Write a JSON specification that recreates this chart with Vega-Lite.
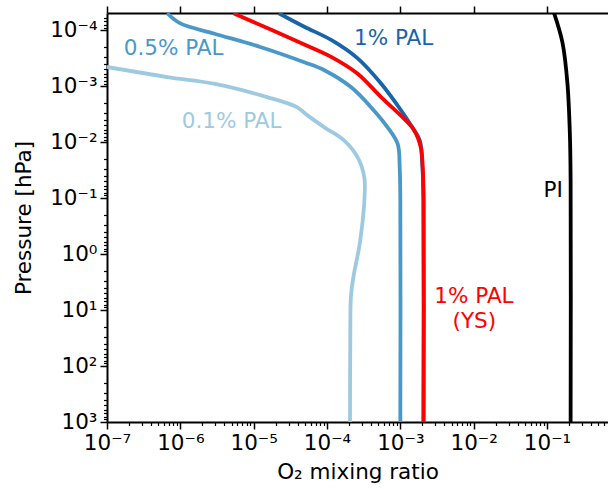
{
 "$schema": "https://vega.github.io/schema/vega-lite/v6.json",
 "width": 501,
 "height": 409,
 "autosize": {"type": "none"},
 "padding": {"left": 107, "top": 13, "right": 0, "bottom": 67},
 "background": "white",
 "config": {
  "view": {"stroke": null},
  "font": "DejaVu Sans",
  "axis": {
   "grid": false,
   "domainColor": "black",
   "domainWidth": 2,
   "tickColor": "black",
   "tickWidth": 1.5,
   "labelColor": "black",
   "labelFont": "DejaVu Sans",
   "labelFontSize": 21.5,
   "titleFont": "DejaVu Sans",
   "titleFontSize": 21.5,
   "titleFontWeight": "normal",
   "titleColor": "black"
  }
 },
 "datasets": {
  "lines": [
   {"series": "1 PI", "i": 0, "x": 0.125, "p": 5e-5},
   {"series": "1 PI", "i": 1, "x": 0.163, "p": 1.7e-4},
   {"series": "1 PI", "i": 2, "x": 0.19, "p": 9e-4},
   {"series": "1 PI", "i": 3, "x": 0.205, "p": 7e-3},
   {"series": "1 PI", "i": 4, "x": 0.21, "p": 0.05},
   {"series": "1 PI", "i": 5, "x": 0.21, "p": 1000},

   {"series": "2 0.1% PAL", "i": 0, "x": 1e-7, "p": 4.56e-4},
   {"series": "2 0.1% PAL", "i": 1, "x": 6.6e-7, "p": 6.9e-4},
   {"series": "2 0.1% PAL", "i": 2, "x": 2.85e-6, "p": 9.06e-4},
   {"series": "2 0.1% PAL", "i": 3, "x": 1.52e-5, "p": 1.57e-3},
   {"series": "2 0.1% PAL", "i": 4, "x": 3.9e-5, "p": 2.38e-3},
   {"series": "2 0.1% PAL", "i": 5, "x": 5.2e-5, "p": 3.2e-3},
   {"series": "2 0.1% PAL", "i": 6, "x": 9.2e-5, "p": 5.45e-3},
   {"series": "2 0.1% PAL", "i": 7, "x": 1.72e-4, "p": 9.4e-3},
   {"series": "2 0.1% PAL", "i": 8, "x": 2.62e-4, "p": 0.0188},
   {"series": "2 0.1% PAL", "i": 9, "x": 3.23e-4, "p": 0.043},
   {"series": "2 0.1% PAL", "i": 10, "x": 3.23e-4, "p": 0.113},
   {"series": "2 0.1% PAL", "i": 11, "x": 3.06e-4, "p": 0.258},
   {"series": "2 0.1% PAL", "i": 12, "x": 2.76e-4, "p": 0.724},
   {"series": "2 0.1% PAL", "i": 13, "x": 2.3e-4, "p": 2.5},
   {"series": "2 0.1% PAL", "i": 14, "x": 2.12e-4, "p": 5.73},
   {"series": "2 0.1% PAL", "i": 15, "x": 2.08e-4, "p": 22.4},
   {"series": "2 0.1% PAL", "i": 16, "x": 2.06e-4, "p": 1000},

   {"series": "3 0.5% PAL", "i": 0, "x": 6.6e-7, "p": 5e-5},
   {"series": "3 0.5% PAL", "i": 1, "x": 1e-6, "p": 7.6e-5},
   {"series": "3 0.5% PAL", "i": 2, "x": 2.85e-6, "p": 1.15e-4},
   {"series": "3 0.5% PAL", "i": 3, "x": 1.23e-5, "p": 2.0e-4},
   {"series": "3 0.5% PAL", "i": 4, "x": 4.9e-5, "p": 3.75e-4},
   {"series": "3 0.5% PAL", "i": 5, "x": 9.2e-5, "p": 5.2e-4},
   {"series": "3 0.5% PAL", "i": 6, "x": 2.12e-4, "p": 1.04e-3},
   {"series": "3 0.5% PAL", "i": 7, "x": 3.98e-4, "p": 2.38e-3},
   {"series": "3 0.5% PAL", "i": 8, "x": 6.7e-4, "p": 5.45e-3},
   {"series": "3 0.5% PAL", "i": 9, "x": 9.2e-4, "p": 0.0108},
   {"series": "3 0.5% PAL", "i": 10, "x": 9.8e-4, "p": 0.0284},
   {"series": "3 0.5% PAL", "i": 11, "x": 1e-3, "p": 0.113},
   {"series": "3 0.5% PAL", "i": 12, "x": 1e-3, "p": 1000},

   {"series": "4 1% PAL", "i": 0, "x": 2.2e-5, "p": 5e-5},
   {"series": "4 1% PAL", "i": 1, "x": 4.9e-5, "p": 8.7e-5},
   {"series": "4 1% PAL", "i": 2, "x": 1.14e-4, "p": 1.5e-4},
   {"series": "4 1% PAL", "i": 3, "x": 2.62e-4, "p": 3.2e-4},
   {"series": "4 1% PAL", "i": 4, "x": 5.46e-4, "p": 9e-4},
   {"series": "4 1% PAL", "i": 5, "x": 1.02e-3, "p": 2.7e-3},
   {"series": "4 1% PAL", "i": 6, "x": 1.55e-3, "p": 6.2e-3},
   {"series": "4 1% PAL", "i": 7, "x": 1.85e-3, "p": 9.5e-3},
   {"series": "4 1% PAL", "i": 8, "x": 2.0e-3, "p": 0.028},
   {"series": "4 1% PAL", "i": 9, "x": 2.07e-3, "p": 0.11},
   {"series": "4 1% PAL", "i": 10, "x": 2.07e-3, "p": 1000},

   {"series": "5 1% PAL (YS)", "i": 0, "x": 5.3e-6, "p": 5e-5},
   {"series": "5 1% PAL (YS)", "i": 1, "x": 4.9e-5, "p": 1.8e-4},
   {"series": "5 1% PAL (YS)", "i": 2, "x": 1.14e-4, "p": 3e-4},
   {"series": "5 1% PAL (YS)", "i": 3, "x": 2.62e-4, "p": 6e-4},
   {"series": "5 1% PAL (YS)", "i": 4, "x": 5.46e-4, "p": 1.57e-3},
   {"series": "5 1% PAL (YS)", "i": 5, "x": 1.13e-3, "p": 3.85e-3},
   {"series": "5 1% PAL (YS)", "i": 6, "x": 1.55e-3, "p": 6.2e-3},
   {"series": "5 1% PAL (YS)", "i": 7, "x": 1.9e-3, "p": 0.0124},
   {"series": "5 1% PAL (YS)", "i": 8, "x": 2.02e-3, "p": 0.028},
   {"series": "5 1% PAL (YS)", "i": 9, "x": 2.07e-3, "p": 0.11},
   {"series": "5 1% PAL (YS)", "i": 10, "x": 2.07e-3, "p": 1000}
  ],
  "labels": [
   {"series": "3 0.5% PAL", "label": "0.5% PAL", "x": 8.1e-7, "p": 2.2e-4},
   {"series": "2 0.1% PAL", "label": "0.1% PAL", "x": 5.0e-6, "p": 4.4e-3},
   {"series": "4 1% PAL", "label": "1% PAL", "x": 8.1e-4, "p": 1.46e-4},
   {"series": "1 PI", "label": "PI", "x": 0.121, "p": 0.0745},
   {"series": "5 1% PAL (YS)", "label": "1% PAL", "x": 0.0101, "p": 5.92},
   {"series": "5 1% PAL (YS)", "label": "(YS)", "x": 0.0102, "p": 16.6}
  ]
 },
 "layer": [
  {
   "data": {"name": "lines"},
   "mark": {"type": "line", "strokeWidth": 3.8, "clip": true, "interpolate": "catmull-rom"},
   "encoding": {
    "x": {"field": "x", "type": "quantitative",
     "scale": {"type": "log", "domain": [1e-7, 0.679], "nice": false, "zero": false},
     "axis": {"orient": "bottom", "values": [1e-7, 1e-6, 1e-5, 1e-4, 1e-3, 1e-2, 1e-1],
      "tickSize": 7, "labelPadding": 3, "labelFlush": false, "labelOverlap": false,
      "labelExpr": "'10' + ['\u207b\u2077','\u207b\u2076','\u207b\u2075','\u207b\u2074','\u207b\u00b3','\u207b\u00b2','\u207b\u00b9','\u2070','\u00b9','\u00b2','\u00b3'][round(log(datum.value)/LN10)+7]",
      "title": "O\u2082 mixing ratio", "titlePadding": 8}},
    "y": {"field": "p", "type": "quantitative",
     "scale": {"type": "log", "domain": [4.95e-5, 1000], "reverse": true, "nice": false, "zero": false},
     "axis": {"orient": "left", "values": [1e-4, 1e-3, 1e-2, 1e-1, 1, 10, 100, 1000],
      "tickSize": 7, "labelPadding": 3, "labelFlush": false, "labelOverlap": false,
      "labelExpr": "'10' + ['\u207b\u2077','\u207b\u2076','\u207b\u2075','\u207b\u2074','\u207b\u00b3','\u207b\u00b2','\u207b\u00b9','\u2070','\u00b9','\u00b2','\u00b3'][round(log(datum.value)/LN10)+7]",
      "title": "Pressure [hPa]", "titlePadding": 14}},
    "color": {"field": "series", "type": "nominal",
     "scale": {"domain": ["1 PI", "2 0.1% PAL", "3 0.5% PAL", "4 1% PAL", "5 1% PAL (YS)"],
      "range": ["#000000", "#9ecae1", "#4a98c9", "#1764ab", "#ff0000"]},
     "legend": null},
    "order": {"field": "i", "type": "quantitative"}
   }
  },
  {
   "data": {"name": "labels"},
   "mark": {"type": "text", "fontSize": 21.5, "font": "DejaVu Sans", "align": "center", "baseline": "middle"},
   "encoding": {
    "x": {"field": "x", "type": "quantitative", "scale": {"type": "log"},
     "axis": {"orient": "bottom", "values": [2e-7,3e-7,4e-7,5e-7,6e-7,7e-7,8e-7,9e-7,2e-6,3e-6,4e-6,5e-6,6e-6,7e-6,8e-6,9e-6,2e-5,3e-5,4e-5,5e-5,6e-5,7e-5,8e-5,9e-5,2e-4,3e-4,4e-4,5e-4,6e-4,7e-4,8e-4,9e-4,2e-3,3e-3,4e-3,5e-3,6e-3,7e-3,8e-3,9e-3,2e-2,3e-2,4e-2,5e-2,6e-2,7e-2,8e-2,9e-2,0.2,0.3,0.4,0.5,0.6],
      "labels": false, "domain": false, "tickSize": 3.5, "tickWidth": 1.2, "title": null}},
    "y": {"field": "p", "type": "quantitative", "scale": {"type": "log"},
     "axis": {"orient": "left", "values": [6e-5,7e-5,8e-5,9e-5,2e-4,3e-4,4e-4,5e-4,6e-4,7e-4,8e-4,9e-4,2e-3,3e-3,4e-3,5e-3,6e-3,7e-3,8e-3,9e-3,2e-2,3e-2,4e-2,5e-2,6e-2,7e-2,8e-2,9e-2,0.2,0.3,0.4,0.5,0.6,0.7,0.8,0.9,2,3,4,5,6,7,8,9,20,30,40,50,60,70,80,90,200,300,400,500,600,700,800,900],
      "labels": false, "domain": false, "tickSize": 3.5, "tickWidth": 1.2, "title": null}},
    "text": {"field": "label"},
    "color": {"field": "series", "type": "nominal", "legend": null}
   }
  },
  {
   "data": {"name": "labels"},
   "mark": {"type": "point", "opacity": 0},
   "encoding": {
    "x": {"field": "x", "type": "quantitative", "scale": {"type": "log"},
     "axis": {"orient": "top", "values": [1e-7, 1e-6, 1e-5, 1e-4, 1e-3, 1e-2, 1e-1],
      "labels": false, "tickSize": 7, "title": null}},
    "y": {"field": "p", "type": "quantitative", "scale": {"type": "log"}, "axis": null}
   }
  }
 ],
 "resolve": {"axis": {"x": "independent", "y": "independent"}}
}
